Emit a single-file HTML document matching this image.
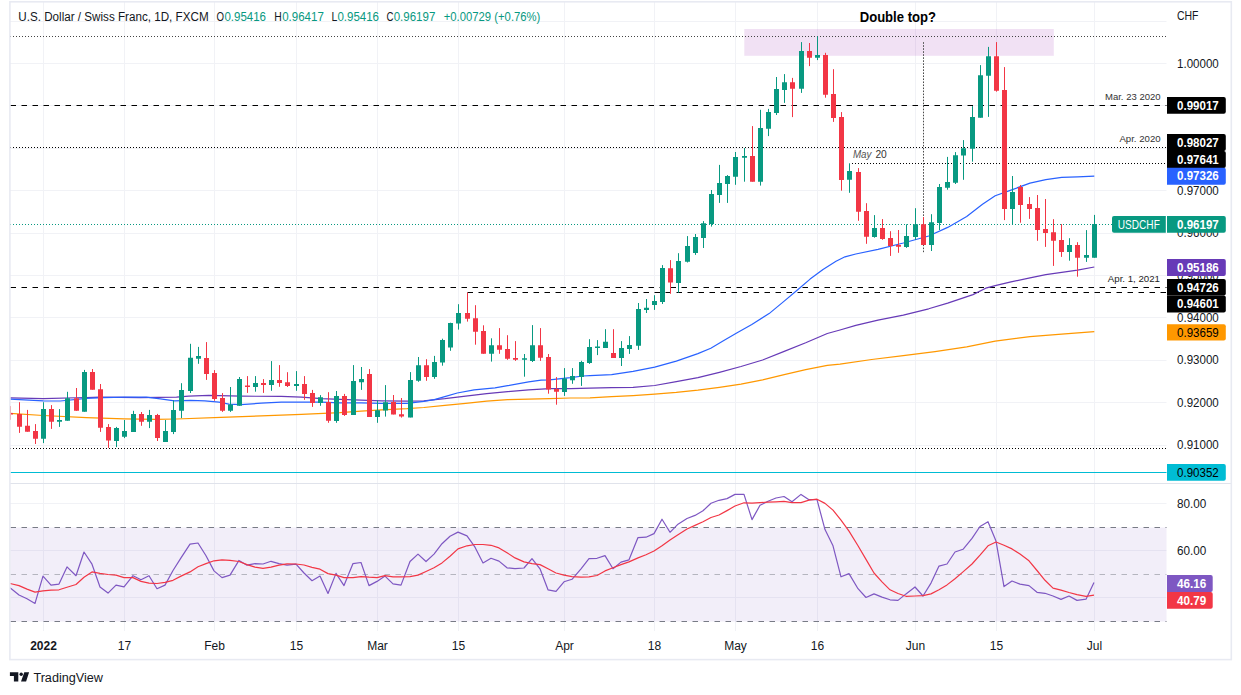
<!DOCTYPE html>
<html><head><meta charset="utf-8"><title>USDCHF chart</title>
<style>html,body{margin:0;padding:0;background:#fff;}body{width:1241px;height:695px;overflow:hidden;font-family:"Liberation Sans",sans-serif;}svg{display:block;}</style>
</head><body>
<svg width="1241" height="695" viewBox="0 0 1241 695" font-family="Liberation Sans, sans-serif">
<defs><clipPath id="cp"><rect x="10" y="2" width="1156.5" height="481"/></clipPath><clipPath id="cr"><rect x="10" y="484" width="1156.5" height="147"/></clipPath></defs>
<rect width="1241" height="695" fill="#fff"/>
<path d="M43.5 2V631 M124.5 2V631 M214.5 2V631 M296.5 2V631 M377.5 2V631 M458.5 2V631 M564.5 2V631 M654.5 2V631 M735.5 2V631 M817.5 2V631 M915.5 2V631 M996.5 2V631 M1094.5 2V631 M10 21.5H1166.5 M10 63.5H1166.5 M10 105.5H1166.5 M10 148.5H1166.5 M10 190.5H1166.5 M10 233.5H1166.5 M10 275.5H1166.5 M10 317.5H1166.5 M10 360.5H1166.5 M10 402.5H1166.5 M10 445.5H1166.5 M10 503.5H1166.5 M10 550.5H1166.5 M10 597.5H1166.5" stroke="#f1f2f6" stroke-width="1" fill="none"/>
<rect x="10.5" y="527.5" width="1156" height="94" fill="#7e57c2" fill-opacity="0.1"/>
<path d="M10.5 527.5H1166.5M10.5 621.5H1166.5" stroke="#787b86" stroke-width="1" stroke-dasharray="5.5 5.5" fill="none"/>
<path d="M10.5 574.5H1166.5" stroke="#787b86" stroke-opacity="0.5" stroke-width="1" stroke-dasharray="5.5 5.5" fill="none"/>
<rect x="744.3" y="29" width="309.5" height="26.8" fill="#9c27b0" fill-opacity="0.14"/>
<path d="M10 36.5H1166.5" stroke="#444" stroke-width="1" stroke-dasharray="1 2" fill="none"/>
<path d="M10 147.5H1166.5M10 448.5H1166.5" stroke="#000" stroke-width="1" stroke-dasharray="1 2" fill="none"/>
<path d="M852 163.5H1166.5" stroke="#000" stroke-width="1" stroke-dasharray="1 2" fill="none"/>
<path d="M923.5 42.2V253.5" stroke="#4a4a4a" stroke-width="1" stroke-dasharray="1.6 1.42" fill="none"/>
<path d="M10.5 105.5H1166.5M10.5 287.5H1166.5M467.5 292.5H1166.5" stroke="#000" stroke-width="1.2" stroke-dasharray="5.5 5.5" fill="none"/>
<path d="M10.5 472.5H1166.5" stroke="#00bcd4" stroke-width="1" fill="none"/>
<path d="M10 224.5H1112" stroke="#089981" stroke-width="1" stroke-dasharray="1 2" fill="none"/>
<g clip-path="url(#cp)">
<path d="M10.2 413.4 L43.2 415.5 L86.4 417.7 L124.4 418.9 L155.4 419.4 L176.5 419.0 L220.9 417.3 L261.2 415.9 L301.4 414.3 L340.0 412.7 L361.0 411.2 L381.9 409.8 L407.0 408.7 L423.8 407.5 L444.8 405.4 L465.7 403.3 L486.7 401.2 L507.6 399.7 L528.6 399.1 L549.5 398.7 L570.5 398.0 L590.0 397.8 L611.6 396.7 L633.1 395.6 L654.7 394.1 L676.3 392.4 L697.9 390.2 L719.4 387.4 L741.0 384.2 L762.6 379.9 L784.2 374.7 L805.7 369.7 L827.3 365.4 L840.0 364.2 L871.7 359.5 L903.3 355.7 L935.0 351.6 L966.7 346.8 L995.2 341.1 L1030.0 336.7 L1061.7 334.2 L1094.3 331.6" stroke="#ff9800" stroke-width="1.2" fill="none" stroke-linejoin="round"/>
<path d="M10.2 397.9 L43.2 398.7 L86.4 397.5 L100.0 397.2 L140.3 397.6 L176.5 397.2 L188.6 396.2 L208.8 395.4 L241.0 396.2 L281.3 396.4 L301.4 397.2 L321.6 398.6 L340.0 399.3 L361.0 400.1 L381.9 400.8 L407.0 401.2 L423.8 400.8 L444.8 398.7 L465.7 396.1 L486.7 393.6 L507.6 391.7 L528.6 389.9 L549.5 388.6 L570.5 388.6 L590.0 388.1 L611.6 387.6 L633.1 387.4 L654.7 385.5 L676.3 381.6 L697.9 377.7 L719.4 372.3 L741.0 366.5 L762.6 360.0 L784.2 351.4 L805.7 342.8 L827.3 333.5 L840.0 330.0 L855.8 325.3 L878.0 320.2 L903.3 315.2 L928.7 308.8 L947.7 303.1 L973.0 294.6 L985.7 288.2 L995.2 285.7 L1011.0 281.9 L1030.0 277.8 L1045.8 274.6 L1061.7 272.4 L1077.5 270.2 L1094.3 267.0" stroke="#673ab7" stroke-width="1.2" fill="none" stroke-linejoin="round"/>
<path d="M10.2 399.2 L43.2 400.8 L60.4 401.0 L86.4 398.4 L103.6 397.7 L124.2 397.2 L146.3 397.2 L160.4 398.8 L174.5 400.8 L190.7 400.4 L204.8 400.8 L218.9 402.2 L228.9 404.2 L241.0 404.6 L261.2 403.2 L281.3 402.2 L301.4 402.2 L321.6 402.2 L340.0 402.9 L361.0 402.9 L381.9 403.3 L407.0 403.3 L423.8 401.4 L434.3 399.7 L444.8 396.6 L457.3 393.0 L474.1 389.9 L495.0 387.8 L507.6 385.7 L528.6 381.9 L541.1 380.2 L549.5 379.8 L570.5 377.7 L583.0 376.0 L590.0 375.6 L611.6 374.7 L633.1 371.3 L654.7 367.2 L676.3 361.1 L697.9 353.6 L710.8 348.2 L723.8 340.6 L736.7 333.1 L751.8 324.4 L769.1 313.6 L784.2 301.1 L797.1 290.3 L810.1 279.1 L823.0 269.4 L836.0 261.2 L845.0 256.8 L855.8 254.0 L878.0 249.3 L903.3 243.0 L928.7 236.0 L947.7 227.4 L966.7 216.4 L982.5 204.3 L995.2 195.8 L1011.0 190.1 L1030.0 183.1 L1045.8 179.6 L1061.7 177.4 L1077.5 176.8 L1094.3 176.1" stroke="#2962ff" stroke-width="1.2" fill="none" stroke-linejoin="round"/>
<path d="M43.5 402.2V443.1M59.5 409.1V426.9M67.5 391.8V420.7M84.5 369.9V411.7M116.5 426.9V447.1M124.5 420.0V438.1M133.5 410.8V431.9M149.5 409.9V428.1M165.5 420.0V441.9M173.5 400.4V434.1M181.5 383.2V418.1M190.5 343.8V393.0M198.5 346.9V363.8M230.5 387.0V411.9M239.5 377.0V405.8M255.5 376.1V391.7M271.5 361.1V390.8M296.5 371.1V390.8M320.5 395.1V405.8M336.5 391.0V422.8M353.5 365.1V415.0M361.5 367.0V389.9M377.5 400.3V422.8M385.5 385.1V416.6M410.5 372.1V417.4M418.5 357.0V381.8M434.5 355.9V378.8M442.5 338.7V365.7M450.5 322.7V350.8M458.5 304.2V329.6M491.5 338.3V361.6M524.5 354.0V376.7M532.5 325.1V362.0M564.5 368.1V395.9M572.5 368.1V383.8M581.5 360.8V385.9M589.5 339.2V363.9M597.5 340.1V355.1M605.5 329.2V347.9M621.5 341.1V366.0M629.5 336.1V353.9M638.5 303.0V349.9M646.5 299.0V313.0M654.5 295.2V309.9M662.5 265.1V304.0M678.5 253.2V292.7M687.5 236.1V262.5M695.5 234.0V254.9M703.5 221.1V248.0M711.5 190.0V226.6M719.5 164.9V202.9M727.5 175.1V202.9M735.5 152.0V184.8M744.5 148.0V181.7M760.5 109.8V185.6M768.5 108.9V136.1M776.5 77.0V115.0M784.5 74.1V102.9M801.5 42.1V92.9M817.5 36.4V60.1M849.5 163.3V192.8M874.5 215.1V237.7M906.5 224.3V247.9M915.5 208.2V239.8M931.5 214.2V251.0M939.5 184.0V230.0M947.5 156.9V189.7M955.5 152.1V184.0M963.5 140.1V179.8M972.5 106.1V161.7M980.5 65.1V117.7M988.5 46.9V116.9M1012.5 176.0V224.9M1069.5 238.2V260.7M1086.5 230.1V261.9M1094.5 214.9V257.7" stroke="#089981" stroke-width="1" fill="none"/>
<path d="M10.5 406.1V419.8M19.5 402.2V432.9M27.5 409.9V431.7M35.5 424.1V444.0M51.5 405.1V428.9M76.5 388.0V410.8M92.5 369.0V389.7M100.5 384.0V431.9M108.5 424.1V447.9M141.5 412.0V425.8M157.5 413.9V441.0M206.5 342.1V379.9M214.5 370.1V400.8M222.5 393.1V411.9M247.5 376.1V392.9M263.5 379.1V392.9M279.5 365.1V386.8M287.5 372.2V387.0M304.5 376.1V399.8M312.5 389.9V406.9M328.5 392.2V422.8M344.5 393.9V415.9M369.5 369.1V416.9M393.5 395.0V414.4M401.5 398.0V417.6M426.5 359.2V380.8M467.5 292.5V321.6M475.5 305.2V344.7M483.5 325.3V353.8M499.5 328.1V353.8M507.5 335.2V359.8M515.5 341.1V360.9M540.5 328.1V360.9M548.5 354.0V393.7M556.5 377.1V404.7M613.5 329.2V357.9M670.5 260.1V293.8M752.5 126.1V181.7M792.5 77.9V117.1M809.5 43.0V66.1M825.5 52.8V97.7M833.5 69.2V121.9M841.5 112.1V190.7M858.5 168.1V220.8M866.5 203.2V243.8M882.5 219.1V239.8M890.5 231.2V255.9M898.5 230.0V252.8M923.5 217.0V245.0M996.5 42.1V91.7M1004.5 67.1V220.1M1020.5 185.0V222.7M1029.5 197.1V218.9M1037.5 195.0V240.8M1045.5 199.0V246.9M1053.5 219.2V265.9M1061.5 224.1V256.9M1077.5 242.2V276.7" stroke="#f23645" stroke-width="1" fill="none"/>
<path d="M41.0 409.1h5v29.7h-5zM57.0 420.0h5v1.7h-5zM65.0 398.2h5v22.5h-5zM82.0 372.0h5v39.7h-5zM114.0 428.1h5v12.8h-5zM122.0 431.0h5v5.7h-5zM131.0 413.9h5v18.0h-5zM147.0 415.1h5v6.6h-5zM163.0 431.0h5v10.9h-5zM171.0 409.9h5v22.0h-5zM179.0 390.1h5v20.7h-5zM188.0 357.8h5v33.1h-5zM196.0 355.9h5v2.8h-5zM228.0 404.6h5v6.1h-5zM237.0 379.1h5v26.7h-5zM253.0 383.0h5v4.0h-5zM269.0 380.1h5v5.0h-5zM294.0 383.9h5v2.2h-5zM318.0 397.2h5v5.7h-5zM334.0 396.0h5v24.9h-5zM351.0 381.0h5v34.0h-5zM359.0 379.1h5v3.1h-5zM375.0 410.2h5v6.7h-5zM383.0 402.3h5v8.2h-5zM408.0 379.9h5v37.5h-5zM416.0 365.2h5v15.6h-5zM432.0 362.0h5v15.1h-5zM440.0 340.0h5v22.6h-5zM448.0 323.1h5v24.4h-5zM456.0 313.0h5v10.6h-5zM489.0 345.2h5v8.6h-5zM522.0 358.3h5v1.5h-5zM530.0 345.2h5v15.7h-5zM562.0 378.6h5v13.3h-5zM570.0 376.0h5v4.2h-5zM579.0 362.0h5v14.9h-5zM587.0 347.0h5v15.9h-5zM595.0 346.6h5v1.3h-5zM603.0 341.8h5v6.1h-5zM619.0 347.9h5v10.0h-5zM627.0 344.9h5v4.2h-5zM636.0 309.0h5v36.8h-5zM644.0 307.8h5v2.1h-5zM652.0 300.9h5v4.1h-5zM660.0 267.9h5v34.0h-5zM676.0 261.0h5v21.9h-5zM685.0 246.1h5v15.6h-5zM693.0 237.1h5v15.9h-5zM701.0 223.3h5v14.7h-5zM709.0 194.1h5v29.9h-5zM717.0 183.1h5v11.9h-5zM725.0 176.1h5v7.8h-5zM733.0 157.0h5v19.8h-5zM742.0 155.9h5v1.9h-5zM758.0 127.9h5v53.8h-5zM766.0 112.1h5v16.7h-5zM774.0 89.1h5v23.8h-5zM782.0 82.2h5v7.7h-5zM799.0 51.1h5v37.6h-5zM815.0 55.1h5v2.6h-5zM847.0 171.1h5v8.6h-5zM872.0 228.1h5v8.8h-5zM904.0 236.0h5v11.1h-5zM913.0 224.3h5v12.6h-5zM929.0 222.2h5v22.8h-5zM937.0 187.1h5v35.8h-5zM945.0 182.0h5v5.7h-5zM953.0 155.2h5v27.6h-5zM961.0 148.2h5v7.4h-5zM970.0 117.1h5v31.6h-5zM978.0 75.3h5v42.4h-5zM986.0 56.3h5v19.5h-5zM1010.0 191.9h5v17.0h-5zM1067.0 245.1h5v6.9h-5zM1084.0 255.0h5v2.7h-5zM1092.0 224.1h5v33.6h-5z" fill="#089981"/>
<path d="M8.0 412.9h5v1.7h-5zM17.0 413.9h5v12.8h-5zM25.0 425.8h5v5.9h-5zM33.0 431.0h5v7.8h-5zM49.0 409.1h5v12.6h-5zM74.0 398.2h5v12.6h-5zM90.0 372.0h5v17.7h-5zM98.0 389.2h5v38.5h-5zM106.0 426.9h5v13.6h-5zM139.0 413.9h5v7.8h-5zM155.0 415.1h5v22.8h-5zM204.0 358.0h5v15.9h-5zM212.0 373.0h5v25.9h-5zM220.0 398.1h5v12.6h-5zM245.0 385.6h5v1.4h-5zM261.0 383.0h5v2.1h-5zM277.0 380.1h5v2.9h-5zM285.0 382.2h5v3.9h-5zM302.0 384.1h5v9.8h-5zM310.0 393.1h5v9.8h-5zM326.0 402.0h5v18.7h-5zM342.0 396.0h5v19.0h-5zM367.0 374.1h5v42.8h-5zM391.0 401.9h5v12.5h-5zM399.0 414.2h5v2.4h-5zM424.0 365.2h5v11.9h-5zM465.0 313.0h5v5.8h-5zM473.0 318.2h5v13.6h-5zM481.0 331.1h5v22.7h-5zM497.0 345.2h5v4.5h-5zM505.0 349.0h5v9.7h-5zM513.0 358.1h5v1.7h-5zM538.0 345.2h5v12.5h-5zM546.0 357.0h5v32.4h-5zM554.0 389.0h5v2.8h-5zM611.0 353.0h5v4.9h-5zM668.0 268.2h5v14.4h-5zM750.0 155.9h5v25.8h-5zM790.0 82.2h5v6.5h-5zM807.0 51.1h5v6.6h-5zM823.0 55.1h5v39.7h-5zM831.0 93.9h5v24.0h-5zM839.0 116.9h5v63.0h-5zM856.0 171.9h5v39.8h-5zM864.0 211.0h5v25.7h-5zM880.0 228.1h5v10.8h-5zM888.0 238.1h5v7.8h-5zM896.0 245.0h5v1.7h-5zM921.0 224.3h5v20.7h-5zM994.0 56.3h5v34.5h-5zM1002.0 90.1h5v118.8h-5zM1018.0 186.9h5v18.0h-5zM1027.0 204.0h5v4.9h-5zM1035.0 208.0h5v21.9h-5zM1043.0 229.1h5v3.9h-5zM1051.0 232.2h5v8.6h-5zM1059.0 239.9h5v12.1h-5zM1075.0 245.1h5v12.6h-5z" fill="#f23645"/>
</g>
<g clip-path="url(#cr)">
<path d="M10.0 587.7 L19.0 595.0 L27.0 598.8 L35.0 603.4 L43.0 576.1 L51.0 585.1 L59.0 584.1 L67.0 566.9 L76.0 575.7 L84.0 552.0 L92.0 564.2 L100.0 587.0 L108.0 593.1 L116.0 585.1 L124.0 586.8 L133.0 575.7 L141.0 579.7 L149.0 575.7 L157.0 588.7 L165.0 585.1 L173.0 570.5 L181.0 557.9 L190.0 544.1 L198.0 543.0 L206.0 555.8 L214.0 570.9 L222.0 577.6 L230.0 575.1 L239.0 560.4 L247.0 565.2 L255.0 563.6 L263.0 564.0 L271.0 561.3 L279.0 563.6 L287.0 565.2 L296.0 564.2 L304.0 573.0 L312.0 580.7 L320.0 576.1 L328.0 593.5 L336.0 573.4 L344.0 585.6 L353.0 563.6 L361.0 562.5 L369.0 585.6 L377.0 581.4 L385.0 576.1 L393.0 583.9 L401.0 585.1 L410.0 561.5 L418.0 554.1 L426.0 561.5 L434.0 554.1 L442.0 543.7 L450.0 536.3 L458.0 532.1 L467.0 535.9 L475.0 547.2 L483.0 562.9 L491.0 558.3 L499.0 561.1 L507.0 567.8 L515.0 568.6 L524.0 568.0 L532.0 558.7 L540.0 568.8 L548.0 589.8 L556.0 591.4 L564.0 581.8 L572.0 579.3 L581.0 568.8 L589.0 558.7 L597.0 558.3 L605.0 555.6 L613.0 568.8 L621.0 562.1 L629.0 559.8 L638.0 537.6 L646.0 537.2 L654.0 533.6 L662.0 519.2 L670.0 532.3 L678.0 524.2 L687.0 518.5 L695.0 515.4 L703.0 510.8 L711.0 503.2 L719.0 500.3 L727.0 498.6 L735.0 494.4 L744.0 494.4 L752.0 519.6 L760.0 505.3 L768.0 501.3 L776.0 498.0 L784.0 496.5 L792.0 501.8 L801.0 494.4 L809.0 499.7 L817.0 499.7 L825.0 529.6 L833.0 545.8 L841.0 576.8 L849.0 573.6 L858.0 588.7 L866.0 597.5 L874.0 593.9 L882.0 597.1 L890.0 599.8 L898.0 600.4 L906.0 593.9 L915.0 587.0 L923.0 596.0 L931.0 583.1 L939.0 566.1 L947.0 564.0 L955.0 552.0 L963.0 549.3 L972.0 538.4 L980.0 526.5 L988.0 521.7 L996.0 541.1 L1004.0 586.6 L1012.0 581.0 L1020.0 584.1 L1029.0 585.6 L1037.0 592.3 L1045.0 593.3 L1053.0 596.0 L1061.0 599.4 L1069.0 596.0 L1077.0 600.4 L1086.0 599.2 L1094.0 582.4" stroke="#7e57c2" stroke-width="1.2" fill="none" stroke-linejoin="round"/>
<path d="M10.0 583.5 L19.0 585.6 L27.0 589.1 L35.0 592.1 L43.0 590.8 L51.0 590.2 L59.0 589.8 L67.0 587.2 L76.0 584.5 L84.0 577.2 L92.0 571.9 L100.0 573.4 L108.0 574.5 L116.0 575.1 L124.0 577.6 L133.0 577.6 L141.0 581.4 L149.0 583.1 L157.0 583.5 L165.0 582.4 L173.0 580.3 L181.0 576.1 L190.0 571.9 L198.0 566.7 L206.0 563.6 L214.0 560.8 L222.0 559.8 L230.0 560.4 L239.0 561.5 L247.0 564.6 L255.0 567.1 L263.0 568.4 L271.0 567.1 L279.0 565.2 L287.0 563.8 L296.0 564.0 L304.0 565.0 L312.0 567.3 L320.0 569.2 L328.0 573.6 L336.0 575.1 L344.0 577.6 L353.0 577.6 L361.0 576.6 L369.0 577.2 L377.0 577.6 L385.0 575.7 L393.0 576.8 L401.0 576.8 L410.0 576.6 L418.0 575.1 L426.0 571.5 L434.0 567.8 L442.0 562.9 L450.0 556.2 L458.0 548.9 L467.0 545.8 L475.0 544.5 L483.0 544.5 L491.0 545.3 L499.0 547.9 L507.0 552.7 L515.0 557.9 L524.0 561.9 L532.0 563.6 L540.0 564.6 L548.0 568.8 L556.0 573.0 L564.0 575.1 L572.0 576.6 L581.0 577.2 L589.0 576.8 L597.0 575.5 L605.0 570.9 L613.0 567.8 L621.0 564.6 L629.0 561.9 L638.0 557.9 L646.0 554.8 L654.0 551.0 L662.0 545.8 L670.0 540.1 L678.0 534.7 L687.0 529.0 L695.0 525.4 L703.0 521.7 L711.0 517.5 L719.0 515.0 L727.0 510.6 L735.0 506.0 L744.0 502.8 L752.0 503.2 L760.0 502.6 L768.0 502.2 L776.0 501.8 L784.0 501.3 L792.0 502.6 L801.0 502.6 L809.0 500.1 L817.0 499.2 L825.0 503.4 L833.0 510.1 L841.0 520.2 L849.0 531.1 L858.0 545.8 L866.0 559.4 L874.0 573.0 L882.0 581.8 L890.0 589.8 L898.0 593.5 L906.0 596.3 L915.0 596.0 L923.0 595.6 L931.0 593.9 L939.0 589.8 L947.0 584.9 L955.0 578.7 L963.0 571.9 L972.0 564.0 L980.0 555.2 L988.0 545.8 L996.0 542.0 L1004.0 545.3 L1012.0 548.9 L1020.0 554.1 L1029.0 560.8 L1037.0 570.5 L1045.0 580.3 L1053.0 588.1 L1061.0 590.2 L1069.0 592.5 L1077.0 594.6 L1086.0 596.3 L1094.0 595.2" stroke="#f23645" stroke-width="1.2" fill="none" stroke-linejoin="round"/>
</g>
<path d="M10 483.5H1231" stroke="#e0e3eb" stroke-width="1" fill="none"/>
<rect x="9.9" y="1.8" width="1221.4" height="657.8" fill="none" stroke="#e8eaf2" stroke-width="1.6"/>
<text x="18.3" y="21.3" font-size="12" fill="#131722" textLength="190.3" lengthAdjust="spacingAndGlyphs">U.S. Dollar / Swiss Franc, 1D, FXCM</text>
<text x="216.5" y="21.3" font-size="12" fill="#131722" textLength="7.5" lengthAdjust="spacingAndGlyphs">O</text>
<text x="224.4" y="21.3" font-size="12" fill="#089981" textLength="41.6" lengthAdjust="spacingAndGlyphs">0.95416</text>
<text x="274.3" y="21.3" font-size="12" fill="#131722" textLength="7.5" lengthAdjust="spacingAndGlyphs">H</text>
<text x="282.2" y="21.3" font-size="12" fill="#089981" textLength="41.6" lengthAdjust="spacingAndGlyphs">0.96417</text>
<text x="331.5" y="21.3" font-size="12" fill="#131722" textLength="5.8" lengthAdjust="spacingAndGlyphs">L</text>
<text x="337.4" y="21.3" font-size="12" fill="#089981" textLength="41.6" lengthAdjust="spacingAndGlyphs">0.95416</text>
<text x="386.5" y="21.3" font-size="12" fill="#131722" textLength="7" lengthAdjust="spacingAndGlyphs">C</text>
<text x="393.7" y="21.3" font-size="12" fill="#089981" textLength="41.6" lengthAdjust="spacingAndGlyphs">0.96197</text>
<text x="443.7" y="21.3" font-size="12" fill="#089981" textLength="96.7" lengthAdjust="spacingAndGlyphs">+0.00729 (+0.76%)</text>
<text x="859.7" y="21.5" font-size="14" fill="#000" textLength="76.3" lengthAdjust="spacingAndGlyphs" font-weight="bold">Double top?</text>
<text x="1105" y="100.3" font-size="9.5" fill="#333" textLength="55.6" lengthAdjust="spacingAndGlyphs">Mar. 23 2020</text>
<text x="1119.4" y="142" font-size="9.5" fill="#333" textLength="41.2" lengthAdjust="spacingAndGlyphs">Apr. 2020</text>
<text x="1107.8" y="282" font-size="9.5" fill="#222" textLength="52.2" lengthAdjust="spacingAndGlyphs">Apr. 1, 2021</text>
<text x="852.9" y="157.8" font-size="11.5" fill="#555" textLength="18.6" lengthAdjust="spacingAndGlyphs" font-style="italic">May</text>
<text x="875.4" y="157.8" font-size="11.5" fill="#333" textLength="11.4" lengthAdjust="spacingAndGlyphs">20</text>
<text x="1177" y="19.7" font-size="12" fill="#131722" textLength="21.5" lengthAdjust="spacingAndGlyphs">CHF</text>
<text x="1177" y="67.7" font-size="12" fill="#131722" textLength="41.8" lengthAdjust="spacingAndGlyphs">1.00000</text>
<text x="1177" y="194.7" font-size="12" fill="#131722" textLength="41.8" lengthAdjust="spacingAndGlyphs">0.97000</text>
<text x="1177" y="237.2" font-size="12" fill="#131722" textLength="41.8" lengthAdjust="spacingAndGlyphs">0.96000</text>
<text x="1177" y="279.7" font-size="12" fill="#131722" textLength="41.8" lengthAdjust="spacingAndGlyphs">0.95000</text>
<text x="1177" y="321.9" font-size="12" fill="#131722" textLength="41.8" lengthAdjust="spacingAndGlyphs">0.94000</text>
<text x="1177" y="364.2" font-size="12" fill="#131722" textLength="41.8" lengthAdjust="spacingAndGlyphs">0.93000</text>
<text x="1177" y="406.7" font-size="12" fill="#131722" textLength="41.8" lengthAdjust="spacingAndGlyphs">0.92000</text>
<text x="1177" y="449.2" font-size="12" fill="#131722" textLength="41.8" lengthAdjust="spacingAndGlyphs">0.91000</text>
<text x="1177" y="507.7" font-size="12" fill="#131722" textLength="29.3" lengthAdjust="spacingAndGlyphs">80.00</text>
<text x="1177" y="554.8000000000001" font-size="12" fill="#131722" textLength="29.3" lengthAdjust="spacingAndGlyphs">60.00</text>
<path d="M1167 97H1223.8a2 2 0 0 1 2 2V111.7a2 2 0 0 1 -2 2H1167z" fill="#000"/>
<text x="1177" y="109.55" font-size="12" fill="#fff" textLength="41.8" lengthAdjust="spacingAndGlyphs" font-weight="bold">0.99017</text>
<path d="M1167 134H1223.8a2 2 0 0 1 2 2V149a2 2 0 0 1 -2 2H1167z" fill="#000"/>
<text x="1177" y="146.7" font-size="12" fill="#fff" textLength="41.8" lengthAdjust="spacingAndGlyphs" font-weight="bold">0.98027</text>
<path d="M1167 151H1223.8a2 2 0 0 1 2 2V166a2 2 0 0 1 -2 2H1167z" fill="#000"/>
<text x="1177" y="163.7" font-size="12" fill="#fff" textLength="41.8" lengthAdjust="spacingAndGlyphs" font-weight="bold">0.97641</text>
<path d="M1167 167.8H1223.8a2 2 0 0 1 2 2V182.7a2 2 0 0 1 -2 2H1167z" fill="#2962ff"/>
<text x="1177" y="180.45" font-size="12" fill="#fff" textLength="41.8" lengthAdjust="spacingAndGlyphs" font-weight="bold">0.97326</text>
<path d="M1167 259H1223.8a2 2 0 0 1 2 2V274a2 2 0 0 1 -2 2H1167z" fill="#673ab7"/>
<text x="1177" y="271.7" font-size="12" fill="#fff" textLength="41.8" lengthAdjust="spacingAndGlyphs" font-weight="bold">0.95186</text>
<path d="M1167 279H1223.8a2 2 0 0 1 2 2V293.6a2 2 0 0 1 -2 2H1167z" fill="#000"/>
<text x="1177" y="291.5" font-size="12" fill="#fff" textLength="41.8" lengthAdjust="spacingAndGlyphs" font-weight="bold">0.94726</text>
<path d="M1167 295.6H1223.8a2 2 0 0 1 2 2V310.4a2 2 0 0 1 -2 2H1167z" fill="#000"/>
<text x="1177" y="308.2" font-size="12" fill="#fff" textLength="41.8" lengthAdjust="spacingAndGlyphs" font-weight="bold">0.94601</text>
<path d="M1167 324.2H1223.8a2 2 0 0 1 2 2V338.6a2 2 0 0 1 -2 2H1167z" fill="#ff9800"/>
<text x="1177" y="336.59999999999997" font-size="12" fill="#000" textLength="41.8" lengthAdjust="spacingAndGlyphs">0.93659</text>
<path d="M1167 464H1223.8a2 2 0 0 1 2 2V478.8a2 2 0 0 1 -2 2H1167z" fill="#00bcd4"/>
<text x="1177" y="476.59999999999997" font-size="12" fill="#000" textLength="41.8" lengthAdjust="spacingAndGlyphs">0.90352</text>
<path d="M1167 216H1223.8a2 2 0 0 1 2 2V230.7a2 2 0 0 1 -2 2H1167z" fill="#089981"/>
<text x="1177" y="228.54999999999998" font-size="12" fill="#fff" textLength="41.8" lengthAdjust="spacingAndGlyphs" font-weight="bold">0.96197</text>
<path d="M1165.8 216V232.7H1114a2 2 0 0 1 -2 -2V218a2 2 0 0 1 2 -2z" fill="#089981"/>
<text x="1117.8" y="228.7" font-size="12" fill="#fff" textLength="42" lengthAdjust="spacingAndGlyphs">USDCHF</text>
<path d="M1167 575H1210.7a2 2 0 0 1 2 2V590a2 2 0 0 1 -2 2H1167z" fill="#7e57c2"/>
<text x="1177" y="587.7" font-size="12" fill="#fff" textLength="29.3" lengthAdjust="spacingAndGlyphs" font-weight="bold">46.16</text>
<path d="M1167 592H1210.7a2 2 0 0 1 2 2V606.7a2 2 0 0 1 -2 2H1167z" fill="#f23645"/>
<text x="1177" y="604.5500000000001" font-size="12" fill="#fff" textLength="29.3" lengthAdjust="spacingAndGlyphs" font-weight="bold">40.79</text>
<text x="43.5" y="650" font-size="12" fill="#131722" text-anchor="middle" font-weight="bold">2022</text>
<text x="124.5" y="650" font-size="12" fill="#131722" text-anchor="middle">17</text>
<text x="214.5" y="650" font-size="12" fill="#131722" text-anchor="middle">Feb</text>
<text x="296.5" y="650" font-size="12" fill="#131722" text-anchor="middle">15</text>
<text x="377.5" y="650" font-size="12" fill="#131722" text-anchor="middle">Mar</text>
<text x="458.5" y="650" font-size="12" fill="#131722" text-anchor="middle">15</text>
<text x="564.5" y="650" font-size="12" fill="#131722" text-anchor="middle">Apr</text>
<text x="654.5" y="650" font-size="12" fill="#131722" text-anchor="middle">18</text>
<text x="735.5" y="650" font-size="12" fill="#131722" text-anchor="middle">May</text>
<text x="817.5" y="650" font-size="12" fill="#131722" text-anchor="middle">16</text>
<text x="915.5" y="650" font-size="12" fill="#131722" text-anchor="middle">Jun</text>
<text x="996.5" y="650" font-size="12" fill="#131722" text-anchor="middle">15</text>
<text x="1094.5" y="650" font-size="12" fill="#131722" text-anchor="middle">Jul</text>
<path d="M9.9 672.3H18.3V681.6H13.9V676.1H9.9z M24.3 672.3H29.1L26.1 681.6H21z" fill="#131722"/><circle cx="21.2" cy="674.2" r="1.7" fill="#131722"/>
<text x="33.4" y="681.6" font-size="12.5" fill="#131722" textLength="69.6" lengthAdjust="spacingAndGlyphs">TradingView</text>
</svg>
</body></html>
